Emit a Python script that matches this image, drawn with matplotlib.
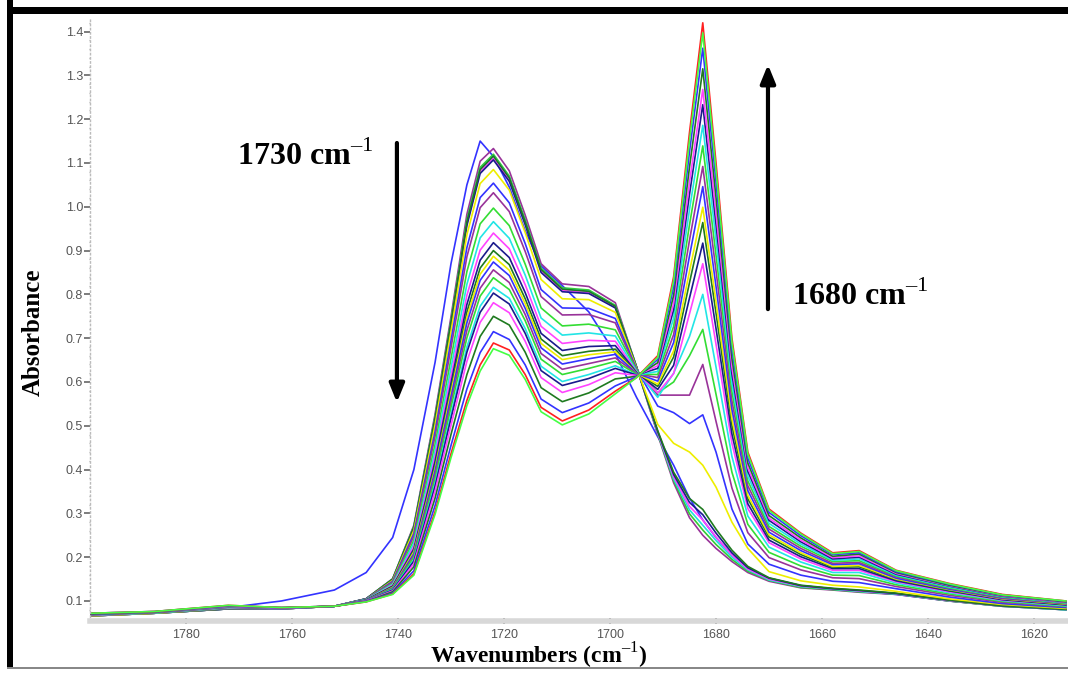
import matplotlib
matplotlib.use("Agg")
import matplotlib.pyplot as plt
from matplotlib.patches import Rectangle
from matplotlib.ticker import MultipleLocator

# wavenumber grid (cm-1) shared by all spectra
wavenumbers = [1798, 1786, 1772, 1762, 1752, 1746, 1741, 1737, 1733, 1730, 1727, 1724.5,
               1722, 1719, 1716, 1713, 1709, 1704, 1699, 1695, 1691, 1688, 1685, 1682.5,
               1680, 1677, 1674, 1670, 1664, 1658, 1653, 1646, 1636, 1626, 1614]

# absorbance of each recorded spectrum, first scan to last
scan_00 = [0.068, 0.072, 0.085, 0.100, 0.125, 0.165, 0.245, 0.400, 0.645, 0.870, 1.050, 1.150,
           1.115, 1.045, 0.945, 0.865, 0.820, 0.760, 0.665, 0.565, 0.475, 0.410, 0.335, 0.285,
           0.245, 0.205, 0.175, 0.152, 0.135, 0.128, 0.122, 0.115, 0.100, 0.088, 0.080]
scan_01 = [0.066, 0.072, 0.082, 0.082, 0.088, 0.105, 0.151, 0.273, 0.527, 0.749, 0.983, 1.104,
           1.133, 1.082, 0.981, 0.870, 0.824, 0.818, 0.781, 0.635, 0.480, 0.370, 0.290, 0.250,
           0.220, 0.190, 0.165, 0.145, 0.130, 0.125, 0.120, 0.115, 0.100, 0.088, 0.080]
scan_02 = [0.066, 0.072, 0.082, 0.082, 0.088, 0.105, 0.150, 0.270, 0.520, 0.740, 0.970, 1.090,
           1.120, 1.070, 0.970, 0.860, 0.815, 0.810, 0.775, 0.635, 0.482, 0.375, 0.299, 0.262,
           0.229, 0.195, 0.168, 0.147, 0.131, 0.126, 0.121, 0.116, 0.100, 0.088, 0.080]
scan_03 = [0.066, 0.072, 0.082, 0.082, 0.088, 0.105, 0.150, 0.269, 0.518, 0.737, 0.966, 1.085,
           1.116, 1.066, 0.966, 0.857, 0.812, 0.807, 0.773, 0.635, 0.484, 0.379, 0.308, 0.273,
           0.238, 0.200, 0.171, 0.148, 0.133, 0.127, 0.122, 0.116, 0.101, 0.089, 0.080]
scan_04 = [0.066, 0.072, 0.082, 0.082, 0.088, 0.105, 0.149, 0.268, 0.516, 0.734, 0.962, 1.081,
           1.111, 1.062, 0.963, 0.854, 0.809, 0.804, 0.771, 0.634, 0.485, 0.384, 0.316, 0.285,
           0.246, 0.205, 0.173, 0.150, 0.134, 0.128, 0.123, 0.117, 0.101, 0.089, 0.081]
scan_05 = [0.066, 0.072, 0.082, 0.082, 0.088, 0.105, 0.149, 0.267, 0.513, 0.731, 0.957, 1.076,
           1.107, 1.058, 0.959, 0.850, 0.806, 0.802, 0.769, 0.634, 0.487, 0.389, 0.325, 0.297,
           0.255, 0.210, 0.176, 0.152, 0.135, 0.128, 0.124, 0.117, 0.102, 0.089, 0.081]
scan_06 = [0.066, 0.072, 0.082, 0.082, 0.088, 0.105, 0.150, 0.269, 0.518, 0.737, 0.966, 1.085,
           1.116, 1.066, 0.966, 0.857, 0.812, 0.807, 0.773, 0.634, 0.489, 0.394, 0.334, 0.309,
           0.264, 0.216, 0.179, 0.153, 0.136, 0.129, 0.125, 0.118, 0.102, 0.089, 0.081]
scan_07 = [0.066, 0.072, 0.083, 0.082, 0.088, 0.104, 0.147, 0.261, 0.502, 0.715, 0.936, 1.053,
           1.085, 1.038, 0.941, 0.834, 0.790, 0.788, 0.759, 0.632, 0.503, 0.460, 0.440, 0.410,
           0.360, 0.280, 0.220, 0.167, 0.146, 0.136, 0.132, 0.122, 0.105, 0.092, 0.083]
scan_08 = [0.067, 0.073, 0.083, 0.082, 0.088, 0.104, 0.145, 0.254, 0.487, 0.694, 0.907, 1.021,
           1.054, 1.009, 0.916, 0.811, 0.769, 0.768, 0.745, 0.630, 0.545, 0.530, 0.505, 0.525,
           0.440, 0.310, 0.230, 0.184, 0.159, 0.145, 0.142, 0.128, 0.109, 0.094, 0.085]
scan_09 = [0.067, 0.073, 0.084, 0.083, 0.088, 0.104, 0.143, 0.248, 0.476, 0.678, 0.886, 0.998,
           1.032, 0.989, 0.898, 0.795, 0.753, 0.754, 0.735, 0.628, 0.570, 0.570, 0.570, 0.640,
           0.510, 0.358, 0.256, 0.199, 0.171, 0.153, 0.151, 0.133, 0.113, 0.097, 0.087]
scan_10 = [0.068, 0.073, 0.084, 0.083, 0.088, 0.103, 0.140, 0.239, 0.458, 0.653, 0.852, 0.961,
           0.997, 0.957, 0.869, 0.769, 0.728, 0.732, 0.719, 0.627, 0.575, 0.600, 0.660, 0.720,
           0.572, 0.394, 0.275, 0.211, 0.180, 0.159, 0.158, 0.137, 0.116, 0.099, 0.088]
scan_11 = [0.068, 0.073, 0.085, 0.083, 0.088, 0.103, 0.138, 0.232, 0.443, 0.632, 0.823, 0.929,
           0.966, 0.928, 0.844, 0.746, 0.707, 0.712, 0.705, 0.625, 0.565, 0.620, 0.704, 0.800,
           0.634, 0.430, 0.294, 0.223, 0.189, 0.165, 0.165, 0.141, 0.119, 0.101, 0.089]
scan_12 = [0.068, 0.074, 0.085, 0.083, 0.088, 0.102, 0.136, 0.225, 0.430, 0.613, 0.798, 0.901,
           0.940, 0.904, 0.822, 0.727, 0.688, 0.695, 0.693, 0.623, 0.575, 0.619, 0.756, 0.870,
           0.686, 0.460, 0.311, 0.233, 0.196, 0.170, 0.170, 0.144, 0.121, 0.102, 0.091]
scan_13 = [0.069, 0.074, 0.086, 0.083, 0.088, 0.102, 0.134, 0.219, 0.419, 0.597, 0.777, 0.878,
           0.918, 0.884, 0.804, 0.711, 0.672, 0.681, 0.683, 0.622, 0.583, 0.638, 0.792, 0.917,
           0.722, 0.481, 0.322, 0.239, 0.201, 0.174, 0.174, 0.146, 0.123, 0.103, 0.091]
scan_14 = [0.069, 0.074, 0.086, 0.084, 0.088, 0.102, 0.133, 0.215, 0.410, 0.585, 0.760, 0.860,
           0.900, 0.868, 0.790, 0.698, 0.660, 0.670, 0.675, 0.621, 0.590, 0.657, 0.827, 0.964,
           0.757, 0.501, 0.333, 0.246, 0.206, 0.177, 0.178, 0.149, 0.124, 0.105, 0.092]
scan_15 = [0.069, 0.074, 0.086, 0.084, 0.088, 0.101, 0.131, 0.212, 0.403, 0.576, 0.747, 0.846,
           0.887, 0.855, 0.779, 0.688, 0.651, 0.662, 0.669, 0.620, 0.595, 0.671, 0.853, 0.999,
           0.783, 0.516, 0.341, 0.251, 0.210, 0.179, 0.181, 0.150, 0.126, 0.105, 0.093]
scan_16 = [0.069, 0.074, 0.086, 0.084, 0.088, 0.101, 0.130, 0.208, 0.397, 0.566, 0.735, 0.832,
           0.874, 0.843, 0.768, 0.678, 0.641, 0.653, 0.663, 0.620, 0.602, 0.690, 0.888, 1.046,
           0.818, 0.537, 0.352, 0.257, 0.215, 0.183, 0.185, 0.152, 0.127, 0.106, 0.094]
scan_17 = [0.070, 0.074, 0.087, 0.084, 0.088, 0.101, 0.129, 0.204, 0.388, 0.554, 0.718, 0.814,
           0.856, 0.827, 0.754, 0.665, 0.629, 0.642, 0.655, 0.619, 0.610, 0.708, 0.924, 1.092,
           0.854, 0.557, 0.363, 0.264, 0.220, 0.186, 0.188, 0.155, 0.129, 0.107, 0.094]
scan_18 = [0.070, 0.075, 0.087, 0.084, 0.088, 0.100, 0.128, 0.200, 0.379, 0.542, 0.701, 0.796,
           0.838, 0.811, 0.740, 0.652, 0.617, 0.631, 0.647, 0.618, 0.617, 0.727, 0.959, 1.139,
           0.889, 0.578, 0.374, 0.270, 0.225, 0.190, 0.192, 0.157, 0.130, 0.109, 0.095]
scan_19 = [0.070, 0.075, 0.088, 0.084, 0.088, 0.100, 0.126, 0.194, 0.368, 0.526, 0.680, 0.773,
           0.816, 0.791, 0.722, 0.636, 0.601, 0.617, 0.637, 0.616, 0.624, 0.746, 0.994, 1.186,
           0.924, 0.598, 0.385, 0.277, 0.230, 0.193, 0.196, 0.159, 0.132, 0.110, 0.096]
scan_20 = [0.070, 0.075, 0.088, 0.084, 0.088, 0.100, 0.125, 0.191, 0.362, 0.517, 0.668, 0.759,
           0.803, 0.778, 0.711, 0.626, 0.592, 0.608, 0.631, 0.616, 0.631, 0.765, 1.029, 1.233,
           0.959, 0.618, 0.396, 0.284, 0.235, 0.196, 0.200, 0.161, 0.134, 0.111, 0.097]
scan_21 = [0.071, 0.075, 0.088, 0.084, 0.088, 0.100, 0.123, 0.185, 0.351, 0.501, 0.647, 0.736,
           0.781, 0.758, 0.693, 0.610, 0.576, 0.594, 0.621, 0.615, 0.637, 0.779, 1.056, 1.268,
           0.986, 0.634, 0.404, 0.289, 0.239, 0.199, 0.203, 0.163, 0.135, 0.112, 0.097]
scan_22 = [0.071, 0.075, 0.089, 0.085, 0.088, 0.099, 0.121, 0.178, 0.335, 0.480, 0.617, 0.704,
           0.750, 0.730, 0.668, 0.587, 0.555, 0.575, 0.607, 0.613, 0.644, 0.798, 1.091, 1.315,
           1.021, 0.654, 0.415, 0.295, 0.244, 0.202, 0.207, 0.165, 0.136, 0.113, 0.098]
scan_23 = [0.072, 0.076, 0.089, 0.085, 0.088, 0.099, 0.118, 0.169, 0.318, 0.455, 0.584, 0.667,
           0.715, 0.697, 0.639, 0.561, 0.530, 0.552, 0.591, 0.612, 0.651, 0.817, 1.126, 1.362,
           1.056, 0.675, 0.426, 0.302, 0.249, 0.206, 0.210, 0.167, 0.138, 0.114, 0.099]
scan_24 = [0.072, 0.076, 0.090, 0.085, 0.088, 0.098, 0.116, 0.162, 0.304, 0.436, 0.558, 0.639,
           0.689, 0.673, 0.617, 0.542, 0.511, 0.536, 0.579, 0.610, 0.660, 0.840, 1.170, 1.420,
           1.100, 0.700, 0.440, 0.310, 0.255, 0.210, 0.215, 0.170, 0.140, 0.115, 0.100]
scan_25 = [0.072, 0.076, 0.090, 0.085, 0.088, 0.098, 0.115, 0.159, 0.298, 0.427, 0.546, 0.625,
           0.676, 0.661, 0.606, 0.532, 0.502, 0.527, 0.573, 0.610, 0.656, 0.831, 1.152, 1.397,
           1.082, 0.690, 0.435, 0.307, 0.253, 0.208, 0.213, 0.169, 0.139, 0.114, 0.100]

scans = [scan_00, scan_01, scan_02, scan_03, scan_04, scan_05, scan_06, scan_07, scan_08,
         scan_09, scan_10, scan_11, scan_12, scan_13, scan_14, scan_15, scan_16, scan_17,
         scan_18, scan_19, scan_20, scan_21, scan_22, scan_23, scan_24, scan_25]

colors = ["#3333ff", "#993399", "#33cc33", "#22dddd", "#ff44ff", "#1a1a8c", "#1f7a1f", "#eeee00",
          "#3333ff", "#993399", "#33dd33", "#22e5e5", "#ff44ff", "#1a1a8c", "#1f7a1f", "#eeee00",
          "#3333ff", "#993399", "#33dd33", "#22e5e5", "#1a1a8c", "#ff44ff", "#1f7a1f", "#3333ff",
          "#ff2020", "#44ff44"]

plt.rcParams["mathtext.fontset"] = "custom"
plt.rcParams["mathtext.rm"] = "Liberation Serif"
plt.rcParams["mathtext.bf"] = "Liberation Serif:bold"

fig = plt.figure(figsize=(10.68, 6.75), dpi=100)
ax = fig.add_axes([90 / 1068, 54 / 675, 978 / 1068, 603 / 675])

for ys, c in zip(scans, colors):
    ax.plot(wavenumbers, ys, color=c, lw=1.2, solid_joinstyle="round")

ax.set_xlim(1798.1, 1613.6)
ax.set_ylim(0.0543, 1.431)

ax.xaxis.set_major_locator(MultipleLocator(20))
ax.xaxis.set_minor_locator(MultipleLocator(5))
ax.yaxis.set_minor_locator(MultipleLocator(0.02))
ax.set_yticks([0.1 * i for i in range(1, 15)])
ax.set_yticklabels([f"{0.1 * i:.1f}" for i in range(1, 15)])

for s in ["top", "right"]:
    ax.spines[s].set_visible(False)
ax.spines["left"].set_color("#bbbbbb")
ax.spines["left"].set_linestyle((0, (1, 2)))
ax.spines["left"].set_linewidth(1.0)
ax.spines["bottom"].set_color("#d8d8d8")
ax.spines["bottom"].set_linewidth(4)

ax.tick_params(axis="y", which="major", direction="out", length=4, width=1.2,
               color="#666666", labelsize=9, labelcolor="#555555", pad=1)
ax.tick_params(axis="y", which="minor", direction="out", length=1, width=1, color="#aaaaaa")
ax.tick_params(axis="x", which="major", direction="inout", length=5, width=1.3,
               color="#555555", labelsize=9, labelcolor="#555555", pad=3)
ax.tick_params(axis="x", which="minor", direction="inout", length=2, width=1.3, color="#555555")
for lbl in ax.get_xticklabels() + ax.get_yticklabels():
    lbl.set_fontfamily("Liberation Sans")

# arrows showing band evolution
ax.annotate("", xy=(1740.2, 0.547), xytext=(1740.2, 1.152),
            arrowprops=dict(arrowstyle="-|>,head_length=1.1,head_width=0.45", lw=3, color="black"))
ax.annotate("", xy=(1670.2, 1.331), xytext=(1670.2, 0.760),
            arrowprops=dict(arrowstyle="-|>,head_length=1.1,head_width=0.45", lw=3, color="black"))

ax.text(1757.5, 1.114, "1730 cm$^{\u20131}$", family="Liberation Serif", weight="bold",
        fontsize=23, ha="center", va="center")
ax.text(1652.8, 0.796, "1680 cm$^{\u20131}$", family="Liberation Serif", weight="bold",
        fontsize=23, ha="center", va="center")

fig.text(539 / 1068, 11 / 675, "Wavenumbers (cm$^{\u20131}$)", family="Liberation Serif",
         weight="bold", fontsize=17, ha="center", va="baseline")
fig.text(33 / 1068, 1 - 332 / 675, "Absorbance", family="Liberation Serif", weight="bold",
         fontsize=18, ha="center", va="center", rotation=90)

# picture frame
fig.add_artist(Rectangle((7 / 1068, 1 - 14 / 675), 1, 7 / 675, transform=fig.transFigure,
                         color="black", lw=0))
fig.add_artist(Rectangle((7 / 1068, 6 / 675), 6 / 1068, 1, transform=fig.transFigure,
                         color="black", lw=0))
fig.add_artist(Rectangle((7 / 1068, 6 / 675), 1, 2 / 675, transform=fig.transFigure,
                         color="#888888", lw=0))

fig.savefig("out.png", dpi=100)
